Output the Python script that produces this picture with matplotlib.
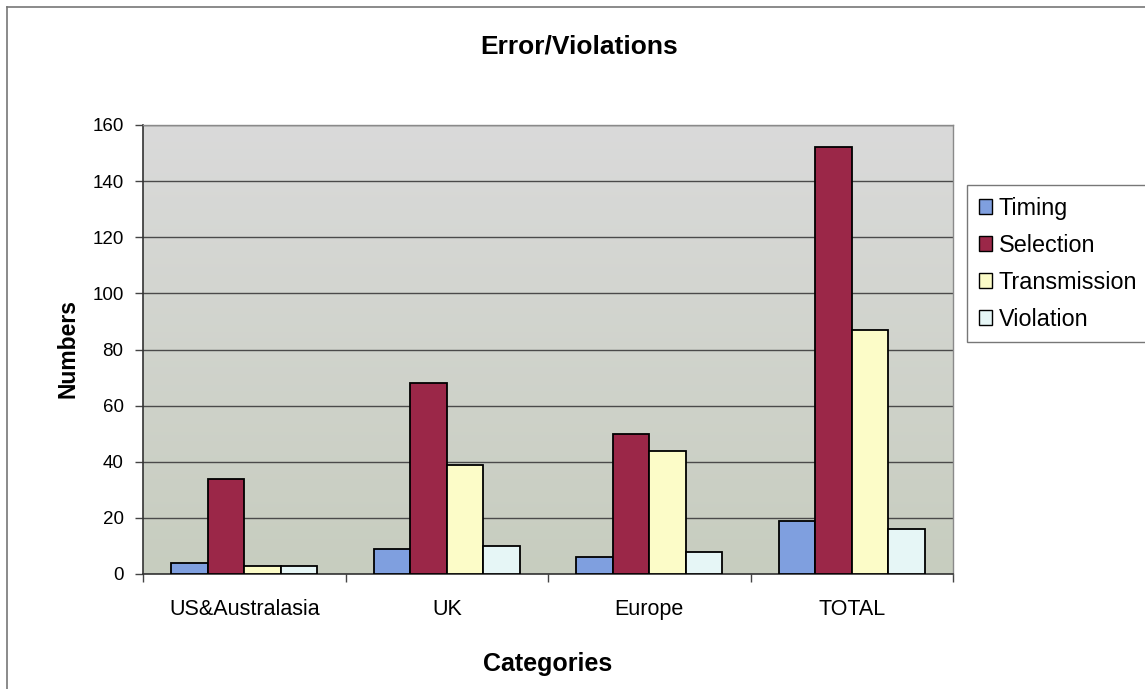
import numpy as np
import matplotlib.pyplot as plt
from matplotlib.colors import LinearSegmentedColormap
from matplotlib.patches import Patch
from matplotlib.lines import Line2D

categories = ["US&Australasia", "UK", "Europe", "TOTAL"]
series = ["Timing", "Selection", "Transmission", "Violation"]
timing = [4, 9, 6, 19]
selection = [34, 68, 50, 152]
transmission = [3, 39, 44, 87]
violation = [3, 10, 8, 16]
yticks = [0, 20, 40, 60, 80, 100, 120, 140, 160]

colors = ["#7f9fdf", "#9b2748", "#fcfcc8", "#e6f6f6"]

plt.rcParams["font.family"] = ["Liberation Sans", "DejaVu Sans"]

W, H = 1145, 689
fig = plt.figure(figsize=(W / 100, H / 100), dpi=100)
ax = fig.add_axes([143 / W, 1 - 574 / H, 810 / W, 449 / H])

x = np.arange(len(categories))
width = 0.18
values = [timing, selection, transmission, violation]
for i, (name, vals) in enumerate(zip(series, values)):
    ax.bar(x + (i - 1.5) * width, vals, width, color=colors[i],
           edgecolor="black", linewidth=1.3, label=name, zorder=3)

ax.set_xlim(-0.5, len(categories) - 0.5)
ax.set_ylim(0, 160)

# plot area background gradient
grad = np.linspace(0, 1, 256).reshape(-1, 1)
cmap = LinearSegmentedColormap.from_list("bg", ["#c7cdbf", "#dadada"])
ax.imshow(grad, extent=[-0.5, len(categories) - 0.5, 0, 160], origin="lower",
          aspect="auto", cmap=cmap, zorder=0)

ax.set_yticks(yticks)
ax.yaxis.grid(True, color="#4a4a4a", linewidth=1.0, zorder=1)
ax.set_axisbelow(True)
ax.set_xticks(x)
ax.set_xticklabels(categories)
ax.set_xticks(np.arange(-0.5, len(categories)), minor=True)
ax.tick_params(axis="x", which="major", length=0, labelsize=15.5, pad=18)
ax.tick_params(axis="x", which="minor", length=6, width=1, color="#444444")
ax.tick_params(axis="y", length=6, width=1, labelsize=13.5, pad=8, color="#444444")

for s in ["left", "bottom"]:
    ax.spines[s].set_color("#333333")
    ax.spines[s].set_linewidth(1.2)
for s in ["top", "right"]:
    ax.spines[s].set_color("#8a8a8a")
    ax.spines[s].set_linewidth(1.0)

fig.text(548 / W, 1 - 664 / H, "Categories", ha="center", va="center",
         fontsize=18, fontweight="bold")
fig.text(68 / W, 1 - 348 / H, "Numbers", ha="center", va="center",
         rotation=90, fontsize=16.5, fontweight="bold")
fig.text(579 / W, 1 - 47 / H, "Error/Violations", ha="center", va="center",
         fontsize=19, fontweight="bold")

handles = [Patch(facecolor=c, edgecolor="black", linewidth=1.0) for c in colors]
leg = fig.legend(handles, series, loc="upper left",
                 bbox_to_anchor=(967 / W, 1 - 185 / H), fontsize=16.8,
                 frameon=True, fancybox=False, handlelength=0.55, handleheight=0.6,
                 handletextpad=0.3, borderpad=0.5, labelspacing=0.6,
                 borderaxespad=0)
leg.get_frame().set_edgecolor("#555555")
leg.get_frame().set_linewidth(1.0)

# outer chart border (top and left visible)
fig.add_artist(Line2D([7 / W, 1], [1 - 7 / H, 1 - 7 / H],
                      transform=fig.transFigure, color="#777777", linewidth=1.2))
fig.add_artist(Line2D([7 / W, 7 / W], [0, 1 - 7 / H],
                      transform=fig.transFigure, color="#777777", linewidth=1.2))

fig.savefig("out.png", dpi=100)
